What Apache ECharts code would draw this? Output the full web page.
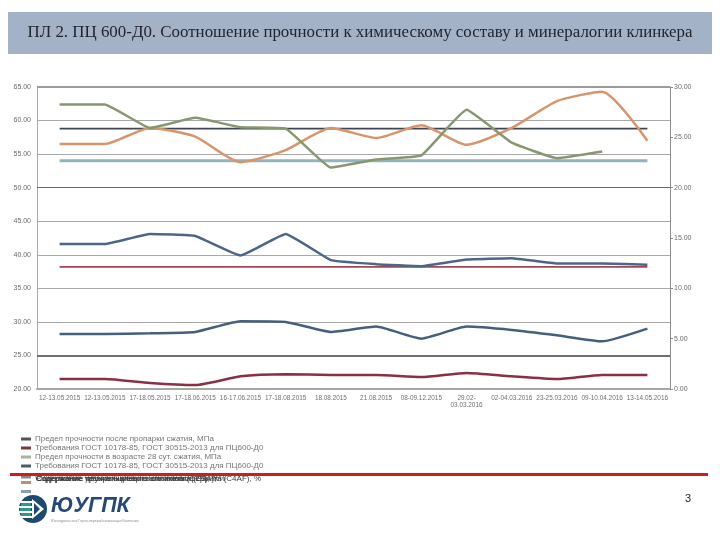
<!DOCTYPE html>
<html>
<head>
<meta charset="utf-8">
<script src="https://cdn.jsdelivr.net/npm/echarts@6/dist/echarts.min.js"></script>
<style>
html,body{margin:0;padding:0;background:#fff;}
#c{width:720px;height:540px;}
</style>
</head>
<body>
<div id="c"></div>
<script>
var titleText = 'ПЛ 2. ПЦ 600-Д0. Соотношение прочности к химическому составу и минералогии клинкера';
var categories = ['12-13.05.2015','12-13.05.2015','17-18.05.2015','17-18.06.2015','16-17.06.2015','17-18.08.2015','18.08.2015','21.08.2015','08-09.12.2015','29.02-\n03.03.2016','02-04.03.2016','23-25.03.2016','09-10.04.2016','13-14.05.2016'];
var leftTicks = {min: 20, max: 65, step: 5};
var rightTicks = {min: 0, max: 30, step: 5};

var steamStrength = [41.6, 41.6, 43.1, 42.8, 39.9, 43.1, 39.2, 38.6, 38.3, 39.3, 39.5, 38.7, 38.7, 38.5];
var steamReq      = [38.2, 38.2, 38.2, 38.2, 38.2, 38.2, 38.2, 38.2, 38.2, 38.2, 38.2, 38.2, 38.2, 38.2];
var strength28    = [62.4, 62.4, 58.9, 60.4, 59.0, 58.8, 53.0, 54.2, 54.8, 61.6, 56.7, 54.4, 55.4, null];
var req28         = [58.8, 58.8, 58.8, 58.8, 58.8, 58.8, 58.8, 58.8, 58.8, 58.8, 58.8, 58.8, 58.8, 58.8];
var c3s           = [56.5, 56.5, 58.9, 57.6, 53.8, 55.6, 58.9, 57.4, 59.3, 56.4, 58.9, 62.9, 64.3, 57.0];
var c3sReq        = [54.0, 54.0, 54.0, 54.0, 54.0, 54.0, 54.0, 54.0, 54.0, 54.0, 54.0, 54.0, 54.0, 54.0];
var lowerBlue     = [28.2, 28.2, 28.3, 28.5, 30.1, 30.0, 28.5, 29.3, 27.5, 29.3, 28.8, 28.0, 27.1, 29.0];
var lowerRed      = [21.5, 21.5, 20.9, 20.6, 21.9, 22.2, 22.1, 22.1, 21.8, 22.4, 21.9, 21.5, 22.1, 22.1];

var legendNames = {
  s1: 'Предел прочности после пропарки сжатия, МПа',
  s2: 'Требования ГОСТ 10178-85, ГОСТ 30515-2013 для ПЦ600-Д0',
  s3: 'Предел прочности в возрасте 28 сут. сжатия, МПа',
  s4: 'Требования ГОСТ 10178-85, ГОСТ 30515-2013 для ПЦ600-Д0',
  s5: 'Содержание трехкальциевого силиката (C3S), %',
  s6: '',
  s7: '',
  s8: ''
};
var overlapTexts = [
  'Содержание трехкальциевого алюмината (C3A), %',
  'Содержание четырехкальциевого алюмоферрита (C4AF), %',
  'Содержание двухкальциевого силиката (C2S), %'
];

var chart = echarts.init(document.getElementById('c'), null, {renderer: 'canvas'});

function lineSeries(id, data, color, width, smooth, z) {
  return {
    id: id, name: id, type: 'line', data: data, yAxisIndex: 0,
    symbol: 'none', smooth: smooth, z: z || 3,
    lineStyle: {color: color, width: width},
    itemStyle: {color: color},
    connectNulls: false
  };
}

var series = [
  lineSeries('s2', steamReq, '#a3475a', 1.6, false, 2),
  lineSeries('s4', req28, '#3f4656', 1.6, false, 2),
  lineSeries('s8', c3sReq, '#93b3bd', 3, false, 2),
  lineSeries('s7', lowerRed, '#8a2f45', 2.5, 0.2),
  lineSeries('s5', lowerBlue, '#44607f', 2.5, 0.15),
  lineSeries('s1', steamStrength, '#4c6688', 2.5, 0.1),
  lineSeries('s6', c3s, '#d8956c', 2.5, 0.2),
  lineSeries('s3', strength28, '#87986e', 2.5, 0.1)
];
series[0].markLine = {
  silent: true, symbol: 'none', label: {show: false},
  data: [
    {yAxis: 50, lineStyle: {color: '#6a6a6a', width: 1.2, type: 'solid'}},
    {yAxis: 25, lineStyle: {color: '#707070', width: 2.2, type: 'solid'}},
    {yAxis: 65, lineStyle: {color: '#9a9a9a', width: 2, type: 'solid'}}
  ]
};

var legendRows = [
  {id: 's1', top: 440, color: '#555555'},
  {id: 's2', top: 449, color: '#7b3a3a'},
  {id: 's3', top: 458, color: '#aab29a'},
  {id: 's4', top: 467, color: '#4d5a70'},
  {id: 's5', top: 478, color: '#8a8a8a'},
  {id: 's6', top: 486, color: '#b59272'},
  {id: 's7', top: 495, color: '#8aa0a8'}
];
var legends = legendRows.map(function (r) {
  return {
    left: 21, top: r.top - 5, padding: 0, orient: 'vertical',
    itemWidth: 10, itemHeight: 3, itemGap: 0,
    selectedMode: false, icon: 'rect',
    textStyle: {fontSize: 8, color: '#757575', fontFamily: 'Liberation Sans', padding: [0, 0, 0, -1]},
    formatter: function (n) { return legendNames[n]; },
    data: [{name: r.id, itemStyle: {color: r.color}}]
  };
});

var graphics = [
  {type: 'rect', shape: {x: 8, y: 12, width: 704, height: 42}, style: {fill: '#a4b2c8'}, z: 0},
  {type: 'text', x: 360, y: 33, style: {text: titleText, fill: '#22242e', font: '16.9px "Liberation Serif"', textAlign: 'center', textVerticalAlign: 'middle'}, z: 1},
  {type: 'text', x: 688, y: 499, style: {text: '3', fill: '#222', font: '11px "Liberation Sans"', textAlign: 'center', textVerticalAlign: 'middle'}, z: 5},
  {type: 'circle', shape: {cx: 33, cy: 509, r: 14}, style: {fill: '#1e4a72'}, z: 5},
  {type: 'rect', shape: {x: 20, y: 501, width: 12, height: 2}, style: {fill: '#ffffff'}, z: 6},
  {type: 'rect', shape: {x: 19, y: 506, width: 13, height: 2}, style: {fill: '#ffffff'}, z: 6},
  {type: 'rect', shape: {x: 19, y: 511, width: 13, height: 2}, style: {fill: '#ffffff'}, z: 6},
  {type: 'rect', shape: {x: 20, y: 516, width: 12, height: 2}, style: {fill: '#ffffff'}, z: 6},
  {type: 'rect', shape: {x: 21, y: 503, width: 10, height: 3}, style: {fill: '#2f9a8c'}, z: 6},
  {type: 'rect', shape: {x: 20, y: 508, width: 11, height: 3}, style: {fill: '#2f9a8c'}, z: 6},
  {type: 'rect', shape: {x: 21, y: 513, width: 10, height: 3}, style: {fill: '#2f9a8c'}, z: 6},
  {type: 'polygon', shape: {points: [[32, 499], [44, 509], [32, 519]]}, style: {fill: '#ffffff'}, z: 6},
  {type: 'polygon', shape: {points: [[34, 503], [40, 509], [34, 515]]}, style: {fill: '#1e4a72'}, z: 7},
  {type: 'text', x: 51, y: 506, style: {text: 'ЮУГПК', fill: '#24487a', font: 'italic bold 21.5px "Liberation Sans"', textVerticalAlign: 'middle'}, z: 5},
  {type: 'text', x: 51, y: 521, style: {text: 'Южноуральская Горно-перерабатывающая Компания', fill: '#8a8f98', font: '3.5px "Liberation Sans"', textVerticalAlign: 'middle'}, z: 5},
  {type: 'line', shape: {x1: 10, y1: 474.5, x2: 708, y2: 474.5}, style: {stroke: '#d21c1c', lineWidth: 3}, z: 10}
];
overlapTexts.forEach(function (t, i) {
  graphics.push({type: 'text', x: 35.5 + i * 0.6, y: 478.5, style: {text: t, fill: '#3a3a3a', font: '8px "Liberation Sans"', textVerticalAlign: 'middle'}, z: 8});
});

var option = {
  animation: false,
  backgroundColor: '#ffffff',
  grid: {left: 37, right: 50, top: 87, bottom: 151, containLabel: false},
  legend: legends,
  xAxis: {
    type: 'category', data: categories, boundaryGap: true,
    axisLine: {show: true, lineStyle: {color: '#a6a6a6', width: 2}},
    axisTick: {show: false},
    axisLabel: {interval: 0, fontSize: 6.4, color: '#707070', margin: 6, fontFamily: 'Liberation Sans', lineHeight: 7}
  },
  yAxis: [
    {
      type: 'value', min: leftTicks.min, max: leftTicks.max, interval: leftTicks.step, position: 'left',
      axisLine: {show: true, lineStyle: {color: '#a8a8a8', width: 1}},
      axisTick: {show: false},
      splitLine: {show: true, lineStyle: {color: '#a9a9a9', width: 1.2}},
      axisLabel: {fontSize: 7, color: '#6a6a6a', margin: 6, fontFamily: 'Liberation Sans', formatter: function (v) { return v.toFixed(2); }}
    },
    {
      type: 'value', min: rightTicks.min, max: rightTicks.max, interval: rightTicks.step, position: 'right',
      axisLine: {show: true, lineStyle: {color: '#8c8c8c', width: 1}},
      axisTick: {show: true, inside: false, length: 3, lineStyle: {color: '#8c8c8c'}},
      splitLine: {show: false},
      axisLabel: {fontSize: 7, color: '#6a6a6a', margin: 4, fontFamily: 'Liberation Sans', formatter: function (v) { return v.toFixed(2); }}
    }
  ],
  series: series,
  graphic: graphics
};
chart.setOption(option);
</script>
</body>
</html>
